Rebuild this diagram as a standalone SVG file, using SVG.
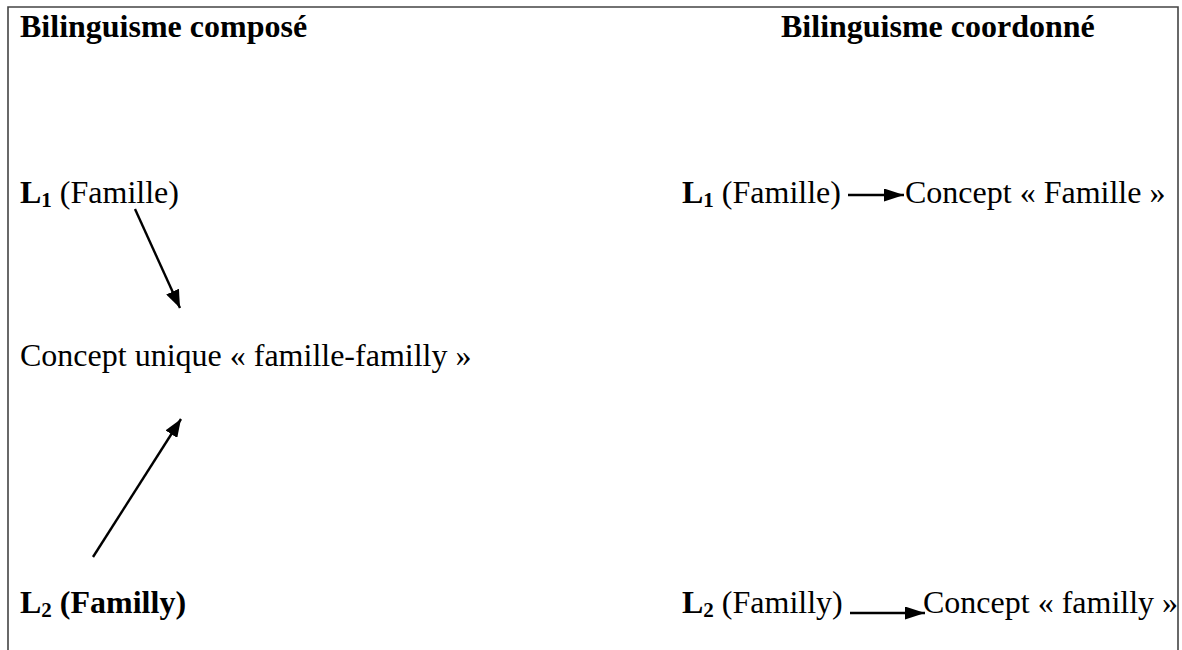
<svg xmlns="http://www.w3.org/2000/svg" width="1182" height="650" viewBox="0 0 1182 650">
<style>
text{font-family:"Liberation Serif","Times New Roman",serif;font-size:32px;fill:#000}
.b{font-weight:bold}
.sub{font-size:21px;font-weight:bold}
.conn line{stroke:#000;stroke-width:2.4}
.frame{stroke:#444;stroke-width:1.6;fill:none}
</style>
<defs>
<marker id="ah" viewBox="0 0 18 14" refX="18" refY="7" markerWidth="18" markerHeight="14" markerUnits="userSpaceOnUse" orient="auto">
<path d="M0,0 L18,7 L0,14 z" fill="#000"/>
</marker>
<marker id="ah2" viewBox="0 0 20 13" refX="20" refY="6.5" markerWidth="20" markerHeight="13" markerUnits="userSpaceOnUse" orient="auto">
<path d="M0,0 L20,6.5 L0,13 z" fill="#000"/>
</marker>
</defs>
<rect width="1182" height="650" fill="#fff"/>
<path class="frame" d="M8,650 V7 H1178 V650"/>
<g id="title-compose"><text x="20" y="37" class="b">Bilinguisme composé</text></g>
<g id="title-coordonne"><text x="781" y="37" class="b">Bilinguisme coordonné</text></g>
<g id="l1-left"><text x="20" y="203"><tspan class="b">L</tspan><tspan class="sub" dy="4">1</tspan><tspan dy="-4"> (Famille)</tspan></text></g>
<g id="concept-unique"><text x="20" y="366">Concept unique « famille-familly »</text></g>
<g id="l2-left"><text x="20" y="613"><tspan class="b">L</tspan><tspan class="sub" dy="4">2</tspan><tspan dy="-4" class="b"> (Familly)</tspan></text></g>
<g id="l1-right"><text x="682" y="203"><tspan class="b">L</tspan><tspan class="sub" dy="4">1</tspan><tspan dy="-4"> (Famille)</tspan></text></g>
<g id="concept-famille"><text x="905" y="203">Concept « Famille »</text></g>
<g id="l2-right"><text x="682" y="613"><tspan class="b">L</tspan><tspan class="sub" dy="4">2</tspan><tspan dy="-4"> (Familly)</tspan></text></g>
<g id="concept-familly"><text x="923" y="613">Concept « familly »</text></g>
<g class="conn" id="connectors">
<line x1="135" y1="209" x2="180" y2="308" marker-end="url(#ah)"/>
<line x1="93" y1="557" x2="181" y2="419" marker-end="url(#ah)"/>
<line x1="848" y1="195" x2="904" y2="195" marker-end="url(#ah2)"/>
<line x1="850" y1="613" x2="925" y2="613" marker-end="url(#ah2)"/>
</g>
</svg>
